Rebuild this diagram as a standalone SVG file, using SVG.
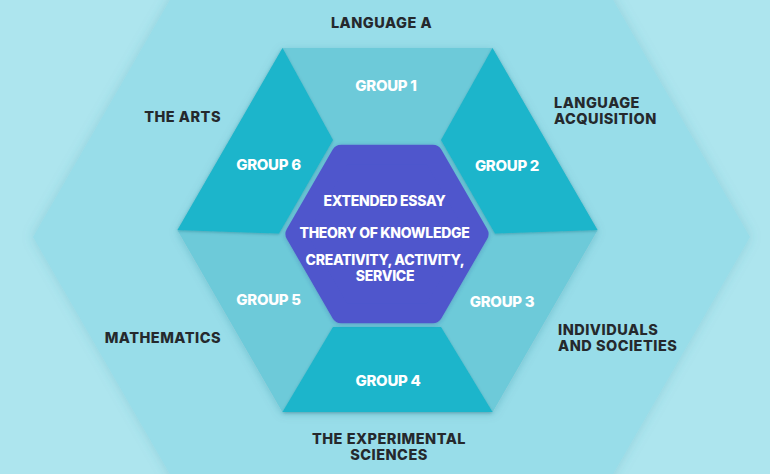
<svg xmlns="http://www.w3.org/2000/svg" width="770" height="474" viewBox="0 0 770 474">
<defs>
<filter id="bigShadow" x="-20%" y="-20%" width="140%" height="140%">
<feDropShadow dx="0" dy="0" stdDeviation="6" flood-color="#3a8fa0" flood-opacity="0.25"/>
</filter>
<filter id="midShadow" x="-20%" y="-20%" width="140%" height="140%">
<feDropShadow dx="0" dy="2" stdDeviation="4" flood-color="#1a6f80" flood-opacity="0.25"/>
</filter>
<filter id="segShadow" x="-20%" y="-20%" width="140%" height="140%">
<feDropShadow dx="0" dy="1" stdDeviation="1.5" flood-color="#0b5a6a" flood-opacity="0.35"/>
</filter>
<filter id="coreShadow" x="-20%" y="-20%" width="140%" height="140%">
<feDropShadow dx="0" dy="1" stdDeviation="2" flood-color="#2a3a8a" flood-opacity="0.3"/>
</filter>
</defs>
<style>
.bg{fill:#ade5ee}
.big{fill:#98dde9}
.light{fill:#6dcad9}
.dark{fill:#1bb5cb}
.core{fill:#4f57cc;stroke:#4f57cc;stroke-width:20;stroke-linejoin:round}
text{font-family:Inter,"Open Sans","Liberation Sans",sans-serif;font-weight:800;font-size:14.5px;letter-spacing:-0.3px}
.lbl{fill:#25292d;letter-spacing:0.5px}
.grp{fill:#ffffff;text-anchor:middle;font-size:15px}
.ctr{fill:#ffffff;text-anchor:middle;font-size:14px}
</style>
<rect class="bg" x="0" y="0" width="770" height="474"/>
<polygon class="big" filter="url(#bigShadow)" points="33,237 212.25,-73.5 570.75,-73.5 750,237 570.75,547.5 212.25,547.5"/>
<g id="middle" filter="url(#midShadow)">
<polygon class="light" points="282.5,48.1 492.5,48.1 597.5,230 492.5,411.9 282.5,411.9 177.5,230"/>
</g>
<g id="group1">
<polygon class="light" points="282.5,48.1 492.5,48.1 441,140 333,140"/>
<text class="grp" x="386" y="91">GROUP 1</text>
</g>
<g id="group3">
<polygon class="light" points="597.5,230 492.5,411.9 441,327 495,233.5"/>
<text class="grp" x="502" y="307">GROUP 3</text>
</g>
<g id="group5">
<polygon class="light" points="282.5,411.9 177.5,230 279,233.5 333,327"/>
<text class="grp" x="268.5" y="305">GROUP 5</text>
</g>
<g id="group2">
<polygon class="dark" filter="url(#segShadow)" points="492.5,48.1 597.5,230 495,233.5 441,140"/>
<text class="grp" x="507" y="171">GROUP 2</text>
</g>
<g id="group4">
<polygon class="dark" filter="url(#segShadow)" points="492.5,411.9 282.5,411.9 333,327 441,327"/>
<text class="grp" x="388" y="386">GROUP 4</text>
</g>
<g id="group6">
<polygon class="dark" filter="url(#segShadow)" points="177.5,230 282.5,48.1 333,140 279,233.5"/>
<text class="grp" x="268.5" y="170">GROUP 6</text>
</g>
<g id="core">
<polygon class="core" filter="url(#coreShadow)" points="341.25,154.8 432.75,154.8 478.5,234 432.75,313.2 341.25,313.2 295.5,234"/>
<text class="ctr" x="384.5" y="206">EXTENDED ESSAY</text>
<text class="ctr" x="384.5" y="238">THEORY OF KNOWLEDGE</text>
<text class="ctr" x="385" y="265">CREATIVITY, ACTIVITY,</text>
<text class="ctr" x="385" y="281">SERVICE</text>
</g>
<g id="connectors"></g>
<g id="label-language-a"><text class="lbl" x="381.5" y="28" text-anchor="middle">LANGUAGE A</text></g>
<g id="label-arts"><text class="lbl" x="221" y="122" text-anchor="end">THE ARTS</text></g>
<g id="label-acquisition"><text class="lbl" x="554" y="108">LANGUAGE</text><text class="lbl" x="554" y="124">ACQUISITION</text></g>
<g id="label-individuals"><text class="lbl" x="558" y="335">INDIVIDUALS</text><text class="lbl" x="558" y="351">AND SOCIETIES</text></g>
<g id="label-mathematics"><text class="lbl" x="221" y="343" text-anchor="end">MATHEMATICS</text></g>
<g id="label-sciences"><text class="lbl" x="389" y="444" text-anchor="middle">THE EXPERIMENTAL</text><text class="lbl" x="389" y="460" text-anchor="middle">SCIENCES</text></g>
</svg>
